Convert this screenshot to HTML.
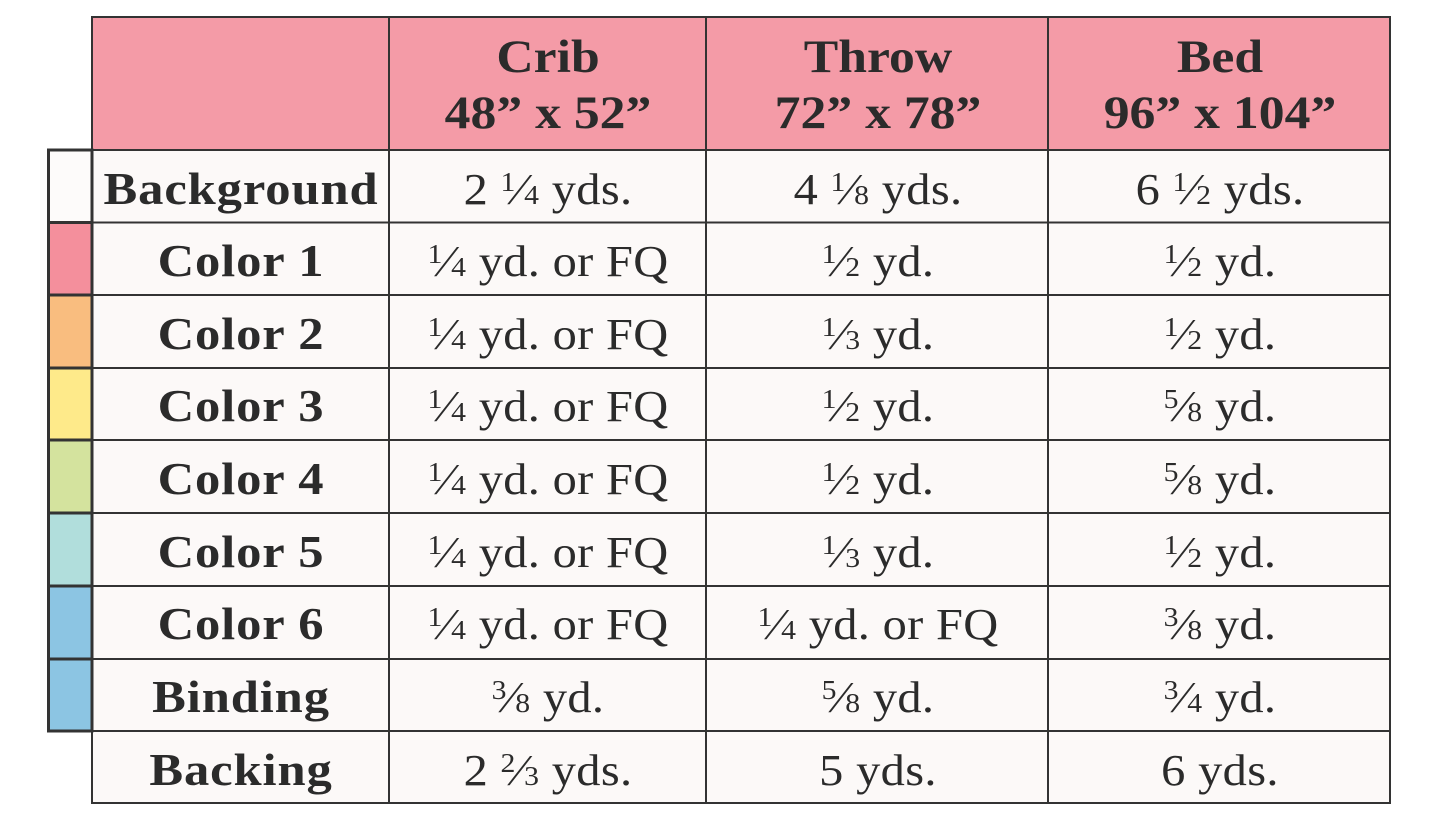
<!DOCTYPE html>
<html>
<head>
<meta charset="utf-8">
<style>
  html, body { margin: 0; padding: 0; background: #ffffff; }
  body { width: 1445px; height: 821px; overflow: hidden; }
  svg { display: block; }
  text { font-family: "Liberation Serif", "DejaVu Serif", serif; fill: #2b2b2b; }
  .lbl { font-weight: bold; font-size: 46px; letter-spacing: 0.8px; }
  .hdr { font-weight: bold; font-size: 47px; }
  .val { font-size: 44px; letter-spacing: 0.3px; }
  .n { font-size: 27px; }
</style>
</head>
<body>
<svg width="1445" height="821" viewBox="0 0 1445 821" xmlns="http://www.w3.org/2000/svg">
  <rect x="0" y="0" width="1445" height="821" fill="#ffffff"/>
  <rect x="92" y="17" width="1298" height="133" fill="#f49ba7"/>
  <rect x="92" y="150" width="1298" height="653" fill="#fcf9f8"/>

  <!-- swatches -->
  <g stroke="#333333" stroke-width="3">
    <rect x="48.5" y="150" width="43.5" height="72.5" fill="#fdfbfa"/>
    <rect x="48.5" y="222.5" width="43.5" height="72.5" fill="#f48f9c"/>
    <rect x="48.5" y="295" width="43.5" height="73" fill="#f9bd7f"/>
    <rect x="48.5" y="368" width="43.5" height="72" fill="#feea8a"/>
    <rect x="48.5" y="440" width="43.5" height="73" fill="#d4e39e"/>
    <rect x="48.5" y="513" width="43.5" height="73" fill="#b1dedc"/>
    <rect x="48.5" y="586" width="43.5" height="73" fill="#8cc5e3"/>
    <rect x="48.5" y="659" width="43.5" height="72" fill="#8cc5e3"/>
  </g>

  <!-- grid lines -->
  <g stroke="#333333" stroke-width="2">
    <line x1="91" y1="17" x2="1391" y2="17"/>
    <line x1="91" y1="150" x2="1391" y2="150"/>
    <line x1="91" y1="222.5" x2="1391" y2="222.5"/>
    <line x1="91" y1="295" x2="1391" y2="295"/>
    <line x1="91" y1="368" x2="1391" y2="368"/>
    <line x1="91" y1="440" x2="1391" y2="440"/>
    <line x1="91" y1="513" x2="1391" y2="513"/>
    <line x1="91" y1="586" x2="1391" y2="586"/>
    <line x1="91" y1="659" x2="1391" y2="659"/>
    <line x1="91" y1="731" x2="1391" y2="731"/>
    <line x1="91" y1="803" x2="1391" y2="803"/>
    <line x1="92" y1="16" x2="92" y2="804"/>
    <line x1="389" y1="16" x2="389" y2="804"/>
    <line x1="706" y1="16" x2="706" y2="804"/>
    <line x1="1048" y1="16" x2="1048" y2="804"/>
    <line x1="1390" y1="16" x2="1390" y2="804"/>
  </g>

  <!-- header text -->
  <g text-anchor="middle">
    <g transform="translate(548,0) scale(1.1,1)">
      <text class="hdr" x="0" y="72">Crib</text>
      <text class="hdr" x="0" y="128">48” x 52”</text>
    </g>
    <g transform="translate(878,0) scale(1.1,1)">
      <text class="hdr" x="0" y="72">Throw</text>
      <text class="hdr" x="0" y="128">72” x 78”</text>
    </g>
    <g transform="translate(1220,0) scale(1.1,1)">
      <text class="hdr" x="0" y="72">Bed</text>
      <text class="hdr" x="0" y="128">96” x 104”</text>
    </g>
  </g>

  <!-- row labels -->
  <g text-anchor="middle" transform="translate(241,0) scale(1.1,1)">
    <text class="lbl" x="0" y="204">Background</text>
    <text class="lbl" x="0" y="276">Color 1</text>
    <text class="lbl" x="0" y="349">Color 2</text>
    <text class="lbl" x="0" y="421">Color 3</text>
    <text class="lbl" x="0" y="494">Color 4</text>
    <text class="lbl" x="0" y="567">Color 5</text>
    <text class="lbl" x="0" y="639">Color 6</text>
    <text class="lbl" x="0" y="712">Binding</text>
    <text class="lbl" x="0" y="785">Backing</text>
  </g>

  <!-- values: Crib -->
  <g text-anchor="middle" transform="translate(548,0) scale(1.1,1)">
    <text class="val" x="0" y="204">2 <tspan class="n" dy="-13">1</tspan><tspan dy="13">⁄</tspan><tspan class="n">4</tspan> yds.</text>
    <text class="val" x="0" y="276"><tspan class="n" dy="-13">1</tspan><tspan dy="13">⁄</tspan><tspan class="n">4</tspan> yd. or FQ</text>
    <text class="val" x="0" y="349"><tspan class="n" dy="-13">1</tspan><tspan dy="13">⁄</tspan><tspan class="n">4</tspan> yd. or FQ</text>
    <text class="val" x="0" y="421"><tspan class="n" dy="-13">1</tspan><tspan dy="13">⁄</tspan><tspan class="n">4</tspan> yd. or FQ</text>
    <text class="val" x="0" y="494"><tspan class="n" dy="-13">1</tspan><tspan dy="13">⁄</tspan><tspan class="n">4</tspan> yd. or FQ</text>
    <text class="val" x="0" y="567"><tspan class="n" dy="-13">1</tspan><tspan dy="13">⁄</tspan><tspan class="n">4</tspan> yd. or FQ</text>
    <text class="val" x="0" y="639"><tspan class="n" dy="-13">1</tspan><tspan dy="13">⁄</tspan><tspan class="n">4</tspan> yd. or FQ</text>
    <text class="val" x="0" y="712"><tspan class="n" dy="-13">3</tspan><tspan dy="13">⁄</tspan><tspan class="n">8</tspan> yd.</text>
    <text class="val" x="0" y="785">2 <tspan class="n" dy="-13">2</tspan><tspan dy="13">⁄</tspan><tspan class="n">3</tspan> yds.</text>
  </g>

  <!-- values: Throw -->
  <g text-anchor="middle" transform="translate(878,0) scale(1.1,1)">
    <text class="val" x="0" y="204">4 <tspan class="n" dy="-13">1</tspan><tspan dy="13">⁄</tspan><tspan class="n">8</tspan> yds.</text>
    <text class="val" x="0" y="276"><tspan class="n" dy="-13">1</tspan><tspan dy="13">⁄</tspan><tspan class="n">2</tspan> yd.</text>
    <text class="val" x="0" y="349"><tspan class="n" dy="-13">1</tspan><tspan dy="13">⁄</tspan><tspan class="n">3</tspan> yd.</text>
    <text class="val" x="0" y="421"><tspan class="n" dy="-13">1</tspan><tspan dy="13">⁄</tspan><tspan class="n">2</tspan> yd.</text>
    <text class="val" x="0" y="494"><tspan class="n" dy="-13">1</tspan><tspan dy="13">⁄</tspan><tspan class="n">2</tspan> yd.</text>
    <text class="val" x="0" y="567"><tspan class="n" dy="-13">1</tspan><tspan dy="13">⁄</tspan><tspan class="n">3</tspan> yd.</text>
    <text class="val" x="0" y="639"><tspan class="n" dy="-13">1</tspan><tspan dy="13">⁄</tspan><tspan class="n">4</tspan> yd. or FQ</text>
    <text class="val" x="0" y="712"><tspan class="n" dy="-13">5</tspan><tspan dy="13">⁄</tspan><tspan class="n">8</tspan> yd.</text>
    <text class="val" x="0" y="785">5 yds.</text>
  </g>

  <!-- values: Bed -->
  <g text-anchor="middle" transform="translate(1220,0) scale(1.1,1)">
    <text class="val" x="0" y="204">6 <tspan class="n" dy="-13">1</tspan><tspan dy="13">⁄</tspan><tspan class="n">2</tspan> yds.</text>
    <text class="val" x="0" y="276"><tspan class="n" dy="-13">1</tspan><tspan dy="13">⁄</tspan><tspan class="n">2</tspan> yd.</text>
    <text class="val" x="0" y="349"><tspan class="n" dy="-13">1</tspan><tspan dy="13">⁄</tspan><tspan class="n">2</tspan> yd.</text>
    <text class="val" x="0" y="421"><tspan class="n" dy="-13">5</tspan><tspan dy="13">⁄</tspan><tspan class="n">8</tspan> yd.</text>
    <text class="val" x="0" y="494"><tspan class="n" dy="-13">5</tspan><tspan dy="13">⁄</tspan><tspan class="n">8</tspan> yd.</text>
    <text class="val" x="0" y="567"><tspan class="n" dy="-13">1</tspan><tspan dy="13">⁄</tspan><tspan class="n">2</tspan> yd.</text>
    <text class="val" x="0" y="639"><tspan class="n" dy="-13">3</tspan><tspan dy="13">⁄</tspan><tspan class="n">8</tspan> yd.</text>
    <text class="val" x="0" y="712"><tspan class="n" dy="-13">3</tspan><tspan dy="13">⁄</tspan><tspan class="n">4</tspan> yd.</text>
    <text class="val" x="0" y="785">6 yds.</text>
  </g>
</svg>
</body>
</html>
